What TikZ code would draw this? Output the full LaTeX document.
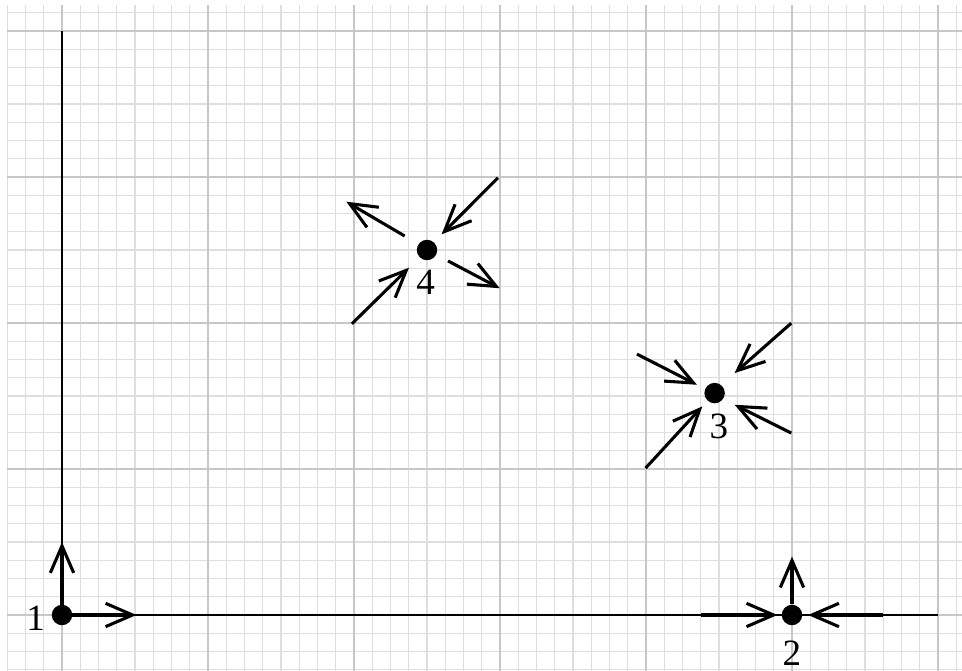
\documentclass[tikz,border=0pt]{standalone}
\usepackage{fontspec}
\setmainfont{Liberation Serif}
\usetikzlibrary{arrows.meta}
\begin{document}
\begin{tikzpicture}[
    minorgrid/.style={draw=black!13,line width=0.25pt},
    majorgrid/.style={draw=black!22,line width=0.35pt},
    axis/.style={line width=0.55pt},
    vec/.style={line width=0.6pt,-{Straight Barb[length=1.85mm,width=1.6mm,line width=0.6pt]}},
    pt/.style={circle,fill=black,inner sep=0pt,minimum size=1.4mm},
    lbl/.style={inner sep=0pt,font=\fontsize{7.2bp}{9pt}\selectfont}]
    \useasboundingbox (-0.4247,-0.3836) rectangle (6.1644,4.2123);
    % paper
    \draw[minorgrid] (-0.375,-0.3836) grid[step=0.125] (6.1644,4.178);
    \draw[majorgrid] (-0.375,-0.3836) grid[step=1] (6.1644,4.178);
    % axes
    \draw[axis] (0,4) -- (0,0) -- (6,0);
    % equilibria
    \node[pt] (p1) at (0,0) {};
    \node[pt] (p2) at (5,0) {};
    \node[pt] (p3) at (4.47,1.52) {};
    \node[pt] (p4) at (2.5,2.5) {};
    \node[lbl] (l1) at (-0.18,-0.02) {1};
    \node[lbl] (l2) at (5,-0.26) {2};
    \node[lbl] (l3) at (4.5,1.29) {3};
    \node[lbl] (l4) at (2.49,2.28) {4};
    % point 1
    \draw[vec] (p1.center) -- ([shift={(0,0.5)}]p1.center);
    \draw[vec] (p1.center) -- ([shift={(0.51,0)}]p1.center);
    % point 2
    \draw[vec] (p2.north) -- ([shift={(0,0.4)}]p2.center);
    \draw[vec] ([shift={(-0.62,0)}]p2.center) -- ([shift={(-0.1,0)}]p2.center);
    \draw[vec] ([shift={(0.62,0)}]p2.center) -- ([shift={(0.11,0)}]p2.center);
    % point 3
    \draw[vec] ([shift={(0.525,0.479)}]p3.center) -- ([shift={(0.137,0.137)}]p3.center);
    \draw[vec] ([shift={(-0.532,0.267)}]p3.center) -- ([shift={(-0.121,0.057)}]p3.center);
    \draw[vec] ([shift={(0.525,-0.274)}]p3.center) -- ([shift={(0.137,-0.08)}]p3.center);
    \draw[vec] ([shift={(-0.473,-0.514)}]p3.center) -- ([shift={(-0.084,-0.091)}]p3.center);
    % point 4
    \draw[vec] ([shift={(0.486,0.495)}]p4.center) -- ([shift={(0.1,0.107)}]p4.center);
    \draw[vec] ([shift={(-0.514,-0.505)}]p4.center) -- ([shift={(-0.123,-0.121)}]p4.center);
    \draw[vec] ([shift={(-0.153,0.096)}]p4.center) -- ([shift={(-0.553,0.331)}]p4.center);
    \draw[vec] ([shift={(0.144,-0.075)}]p4.center) -- ([shift={(0.498,-0.262)}]p4.center);
\end{tikzpicture}
\end{document}
